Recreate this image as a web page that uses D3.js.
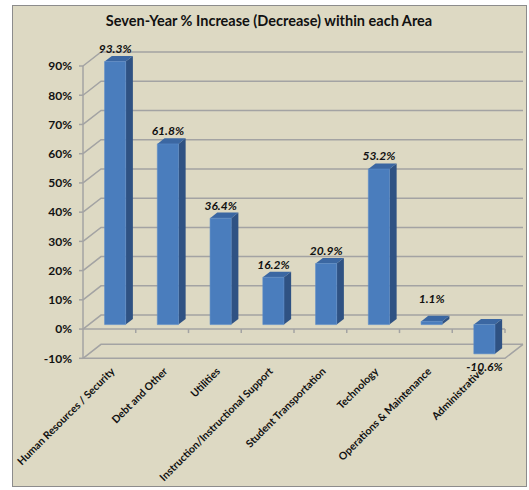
<!DOCTYPE html>
<html>
<head>
<meta charset="utf-8">
<script src="https://cdn.jsdelivr.net/npm/d3@7"></script>
<style>
  html, body { margin: 0; padding: 0; background: #fff; }
  text { font-family: Lato, "Open Sans", sans-serif; fill: #111; }
</style>
</head>
<body>
<div id="chart"></div>
<script>
const categories = ["Human Resources / Security", "Debt and Other", "Utilities",
  "Instruction/Instructional Support", "Student Transportation", "Technology",
  "Operations & Maintenance", "Administrative"];
const values = [0.933, 0.618, 0.364, 0.162, 0.209, 0.532, 0.011, -0.106];
const yTicks = [-0.1, 0, 0.1, 0.2, 0.3, 0.4, 0.5, 0.6, 0.7, 0.8, 0.9];
const title = "Seven-Year % Increase (Decrease) within each Area";

const W = 529, H = 490;
const DX = 18, DY = 14;          // depth of the plot box
const barD0 = 0.32, barD1 = 0.72; // bar position in depth

const svg = d3.select("#chart").append("svg")
  .attr("width", W).attr("height", H);

svg.append("rect")
  .attr("x", 12.5).attr("y", 5.5).attr("width", 514).attr("height", 481)
  .attr("fill", "#ddd9c3").attr("stroke", "#8c8c8c");

svg.append("text")
  .attr("x", 269).attr("y", 26)
  .attr("text-anchor", "middle")
  .style("font-size", "14.5px").style("font-weight", "bold")
  .text(title);

const x = d3.scaleBand().domain(categories).range([83, 505])
  .paddingInner(0.6).paddingOuter(0.3);
const y = d3.scaleLinear().domain([-0.1, 0.9]).range([358.3, 66]);

const p = (px, v, d) => [px + d * DX, y(v) - d * DY];
const grid = "#a3a3a3";
const hyph = s => s.replace("\u2212", "-");
const g = svg.append("g");

// back wall gridlines and side-wall diagonals
yTicks.forEach(t => {
  const a = p(83, t, 0), b = p(83, t, 1), c = p(505, t, 1);
  g.append("path")
    .attr("d", d3.line()([a, b, c]))
    .attr("fill", "none").attr("stroke", grid).attr("stroke-width", 1.5);
});

// floor outline
const fl = [p(83, -0.1, 0), p(505, -0.1, 0), p(505, -0.1, 1)];
g.append("path").attr("d", d3.line()(fl))
  .attr("fill", "none").attr("stroke", grid).attr("stroke-width", 1.5);

// vertical axis
g.append("line")
  .attr("x1", 83).attr("x2", 83).attr("y1", y(0.9)).attr("y2", y(-0.1))
  .attr("stroke", grid).attr("stroke-width", 1.5);
yTicks.forEach(t => {
  g.append("line").attr("x1", 79).attr("x2", 83).attr("y1", y(t)).attr("y2", y(t))
    .attr("stroke", grid).attr("stroke-width", 1.5);
});

// category axis at zero
g.append("line").attr("x1", 83).attr("x2", 505).attr("y1", y(0)).attr("y2", y(0))
  .attr("stroke", grid).attr("stroke-width", 1.5);
const step = x.step();
categories.forEach((c, i) => {
  const tx = x(c) - x.paddingInner() * step / 2 + step;
  g.append("line").attr("x1", tx).attr("x2", tx).attr("y1", y(0)).attr("y2", y(0) + 4)
    .attr("stroke", grid).attr("stroke-width", 1.5);
});

// y labels
svg.append("g").selectAll("text").data(yTicks).join("text")
  .attr("x", 72).attr("y", d => y(d)).attr("dy", "0.36em")
  .attr("text-anchor", "end")
  .style("font-size", "12px").style("font-weight", "bold")
  .text(d => hyph(d3.format(".0%")(d)));

// bars
const clamp = v => Math.max(-0.1, Math.min(0.9, v));
const bars = svg.append("g");
categories.forEach((c, i) => {
  const v = clamp(values[i]);
  const lo = Math.min(0, v), hi = Math.max(0, v);
  const x0 = x(c), x1 = x(c) + x.bandwidth();
  const f = [p(x0, hi, barD0), p(x1, hi, barD0), p(x1, lo, barD0), p(x0, lo, barD0)];
  const s = [p(x1, hi, barD0), p(x1, hi, barD1), p(x1, lo, barD1), p(x1, lo, barD0)];
  const t = [p(x0, hi, barD0), p(x0, hi, barD1), p(x1, hi, barD1), p(x1, hi, barD0)];
  bars.append("path").attr("d", d3.line()(s) + "Z").attr("fill", "#2f5283");
  bars.append("path").attr("d", d3.line()(t) + "Z").attr("fill", "#3b67a2");
  bars.append("path").attr("d", d3.line()(f) + "Z").attr("fill", "#4a7dbd")
    .attr("stroke", "#5a8cca").attr("stroke-width", 0.6);
});

// value labels
svg.append("g").selectAll("text").data(values).join("text")
  .attr("x", (d, i) => x(categories[i]) + x.bandwidth() / 2 + barD0 * DX)
  .attr("y", d => {
    const v = clamp(d);
    if (d < 0) return y(v) - barD0 * DY + 13;
    return Math.min(y(v), y(0.045)) - barD0 * DY - 13;
  })
  .attr("dy", "0.36em")
  .attr("text-anchor", "middle")
  .style("font-size", "12px").style("font-weight", "bold").style("font-style", "italic")
  .text(d => hyph(d3.format(".1%")(d)));

// category labels
svg.append("g").selectAll("text").data(categories).join("text")
  .attr("transform", d => `translate(${x(d) + x.bandwidth() / 2 + 6},${y(0) + 43}) rotate(-45)`)
  .attr("text-anchor", "end")
  .style("font-size", "10.5px").style("font-weight", "bold")
  .text(d => d);
</script>
</body>
</html>
